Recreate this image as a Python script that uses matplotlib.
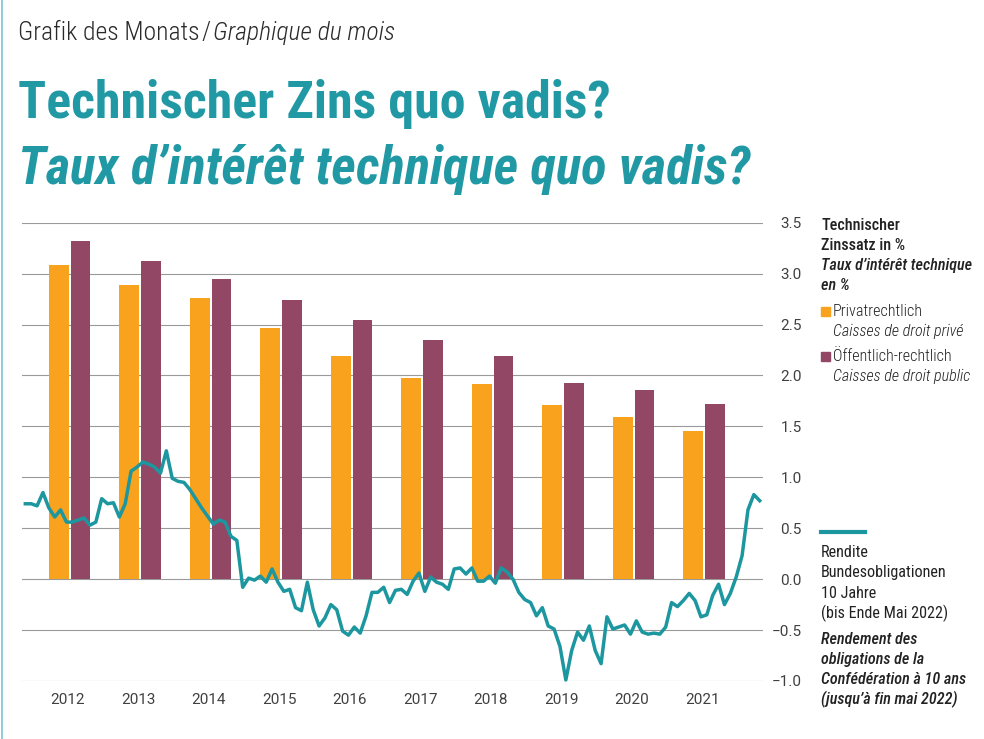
import matplotlib.pyplot as plt
import numpy as np
from matplotlib import font_manager
from matplotlib.lines import Line2D
from matplotlib.patches import Rectangle

# technischer Zinssatz in % (Privatrechtlich / Oeffentlich-rechtlich)
years = list(range(2012, 2022))
privat = [3.08, 2.89, 2.76, 2.47, 2.19, 1.97, 1.92, 1.71, 1.59, 1.45]
oeffentlich = [3.32, 3.12, 2.95, 2.74, 2.54, 2.35, 2.19, 1.93, 1.86, 1.72]

# Rendite Bundesobligationen 10 Jahre, monthly from Dec 2011 to May 2022
rendite = [
    0.74, 0.74, 0.72, 0.85, 0.70, 0.61, 0.68, 0.56, 0.56, 0.58, 0.60, 0.53,
    0.56, 0.79, 0.74, 0.75, 0.61, 0.74, 1.06, 1.10, 1.15, 1.13, 1.10, 1.04,
    1.26, 0.99, 0.96, 0.95, 0.88, 0.79, 0.70, 0.62, 0.54, 0.58, 0.56, 0.42,
    0.38, -0.08, 0.01, -0.01, 0.03, -0.03, 0.10, -0.03, -0.12, -0.10, -0.28, -0.31,
    -0.03, -0.30, -0.46, -0.38, -0.25, -0.30, -0.51, -0.55, -0.47, -0.53, -0.36, -0.13,
    -0.13, -0.08, -0.23, -0.11, -0.10, -0.15, -0.02, 0.06, -0.12, 0.02, -0.03, -0.05,
    -0.10, 0.10, 0.11, 0.05, 0.11, -0.02, -0.02, 0.03, -0.04, 0.11, 0.07, 0.00,
    -0.13, -0.20, -0.23, -0.36, -0.28, -0.46, -0.49, -0.66, -0.99, -0.70, -0.52, -0.60,
    -0.46, -0.70, -0.83, -0.37, -0.49, -0.47, -0.45, -0.54, -0.41, -0.52, -0.54, -0.53,
    -0.54, -0.47, -0.23, -0.27, -0.21, -0.14, -0.21, -0.37, -0.35, -0.16, -0.05, -0.25,
    -0.14, 0.02, 0.23, 0.68, 0.83, 0.77,
]
yticks = [-1.0, -0.5, 0.0, 0.5, 1.0, 1.5, 2.0, 2.5, 3.0, 3.5]

orange = '#F9A21E'
purple = '#924765'
teal = '#1C979F'
title_teal = '#2199A5'

names = {f.name for f in font_manager.fontManager.ttflist}


def pick(cands):
    for c in cands:
        if c in names:
            return c
    return 'DejaVu Sans'


cond = pick(['Roboto Condensed', 'IBM Plex Sans Condensed', 'Archivo Narrow', 'Barlow Condensed',
             'Liberation Sans'])
plain = pick(['Roboto', 'Liberation Sans'])
plt.rcParams['font.family'] = [cond, 'DejaVu Sans']

fig = plt.figure(figsize=(9.84, 7.39), dpi=100)
ax = fig.add_axes([0.0224, 0.0785, 0.7530, 0.6202])

yr = np.array(years)
months = 2011 + 11 / 12 + np.arange(len(rendite)) / 12

ax.bar(yr + 0.39, privat, width=0.28, color=orange, zorder=2)
ax.bar(yr + 0.70, oeffentlich, width=0.28, color=purple, zorder=2)
ax.plot(months, rendite, color=teal, lw=2.5, zorder=3, clip_on=False)

ax.set_xlim(2011.87, 2022.38)
ax.set_ylim(-1.0, 3.5)
ax.set_yticks(yticks)
ax.set_xticks(yr + 0.52)
ax.set_xticklabels([str(y) for y in years])
ax.grid(axis='y', color='#9a9a9a', lw=0.8, zorder=0)
ax.set_axisbelow(True)
for s in ax.spines.values():
    s.set_visible(False)
ax.yaxis.tick_right()
ax.tick_params(axis='y', length=0, pad=28, labelsize=11, labelcolor='#404040')
ax.tick_params(axis='x', length=0, pad=9, labelsize=11, labelcolor='#404040')
for lab in ax.get_yticklabels() + ax.get_xticklabels():
    lab.set_family([plain, 'DejaVu Sans'])
for lab in ax.get_yticklabels():
    lab.set_horizontalalignment('right')

r = fig.canvas.get_renderer()


def fit(t, width_px):
    w = t.get_window_extent(r).width
    t.set_fontsize(t.get_fontsize() * width_px / w)


def fx(px):
    return px / 984


def fy(py):
    return 1 - py / 739


# header
t1 = fig.text(fx(18), fy(40), 'Grafik des Monats', fontsize=17, weight='light',
              color='#2a2a2a', va='baseline')
fit(t1, 182)
x_end = t1.get_window_extent(r).x1
t2 = fig.text(fx(x_end + 2), fy(40), '/', fontsize=t1.get_fontsize(), weight='light',
              color='#2a2a2a', va='baseline')
x_end = t2.get_window_extent(r).x1
t3 = fig.text(fx(x_end + 2), fy(40), 'Graphique du mois', fontsize=t1.get_fontsize(),
              weight='light', style='italic', color='#2a2a2a', va='baseline')

h1 = fig.text(fx(18), fy(118), 'Technischer Zins quo vadis?', fontsize=36,
              weight='bold', color=title_teal, va='baseline')
fit(h1, 592)
h2 = fig.text(fx(18), fy(184), 'Taux d’intérêt technique quo vadis?', fontsize=36,
              weight='bold', style='italic', color=title_teal, va='baseline')
fit(h2, 732)

# legend block
lx = fx(821)
probe = fig.text(lx, fy(265.7), 'Taux d’intérêt technique', fontsize=11,
                 style='italic', weight='medium', color='#222222', va='center')
fit(probe, 151)
fs = probe.get_fontsize()
fig.text(lx, fy(225), 'Technischer', fontsize=fs, weight='medium', color='#222222', va='center')
fig.text(lx, fy(245.7), 'Zinssatz in %', fontsize=fs, weight='medium', color='#222222', va='center')
fig.text(lx, fy(285.7), 'en %', fontsize=fs, style='italic', weight='medium', color='#222222', va='center')

fig.add_artist(Rectangle((fx(821), fy(316)), fx(9), 9 / 739, color=orange, transform=fig.transFigure))
fig.text(fx(833), fy(311.7), 'Privatrechtlich', fontsize=fs, weight='light', color='#222222', va='center')
fig.text(fx(833), fy(331.7), 'Caisses de droit privé', fontsize=fs, weight='light', style='italic',
         color='#222222', va='center')
fig.add_artist(Rectangle((fx(821), fy(361)), fx(9), 9 / 739, color=purple, transform=fig.transFigure))
fig.text(fx(833), fy(356.7), 'Öffentlich-rechtlich', fontsize=fs, weight='light', color='#222222', va='center')
fig.text(fx(833), fy(376.7), 'Caisses de droit public', fontsize=fs, weight='light', style='italic',
         color='#222222', va='center')

fig.add_artist(Line2D([fx(821), fx(865)], [fy(532.3), fy(532.3)], color=teal, lw=3,
                      transform=fig.transFigure))
de_lines = ['Rendite', 'Bundesobligationen', '10 Jahre', '(bis Ende Mai 2022)']
fr_lines = ['Rendement des', 'obligations de la', 'Confédération à 10 ans', '(jusqu’à fin mai 2022)']
for i, s in enumerate(de_lines):
    fig.text(lx, fy(552.7 + 20.2 * i), s, fontsize=fs, color='#222222', va='center')
for i, s in enumerate(fr_lines):
    fig.text(lx, fy(639.3 + 20.2 * i), s, fontsize=fs, style='italic', weight='medium',
             color='#222222', va='center')

# page border on the left
fig.add_artist(Line2D([fx(2), fx(2)], [0, 1], color='#7cc6cc', lw=1.2, transform=fig.transFigure))

fig.savefig('out.png', dpi=100)
